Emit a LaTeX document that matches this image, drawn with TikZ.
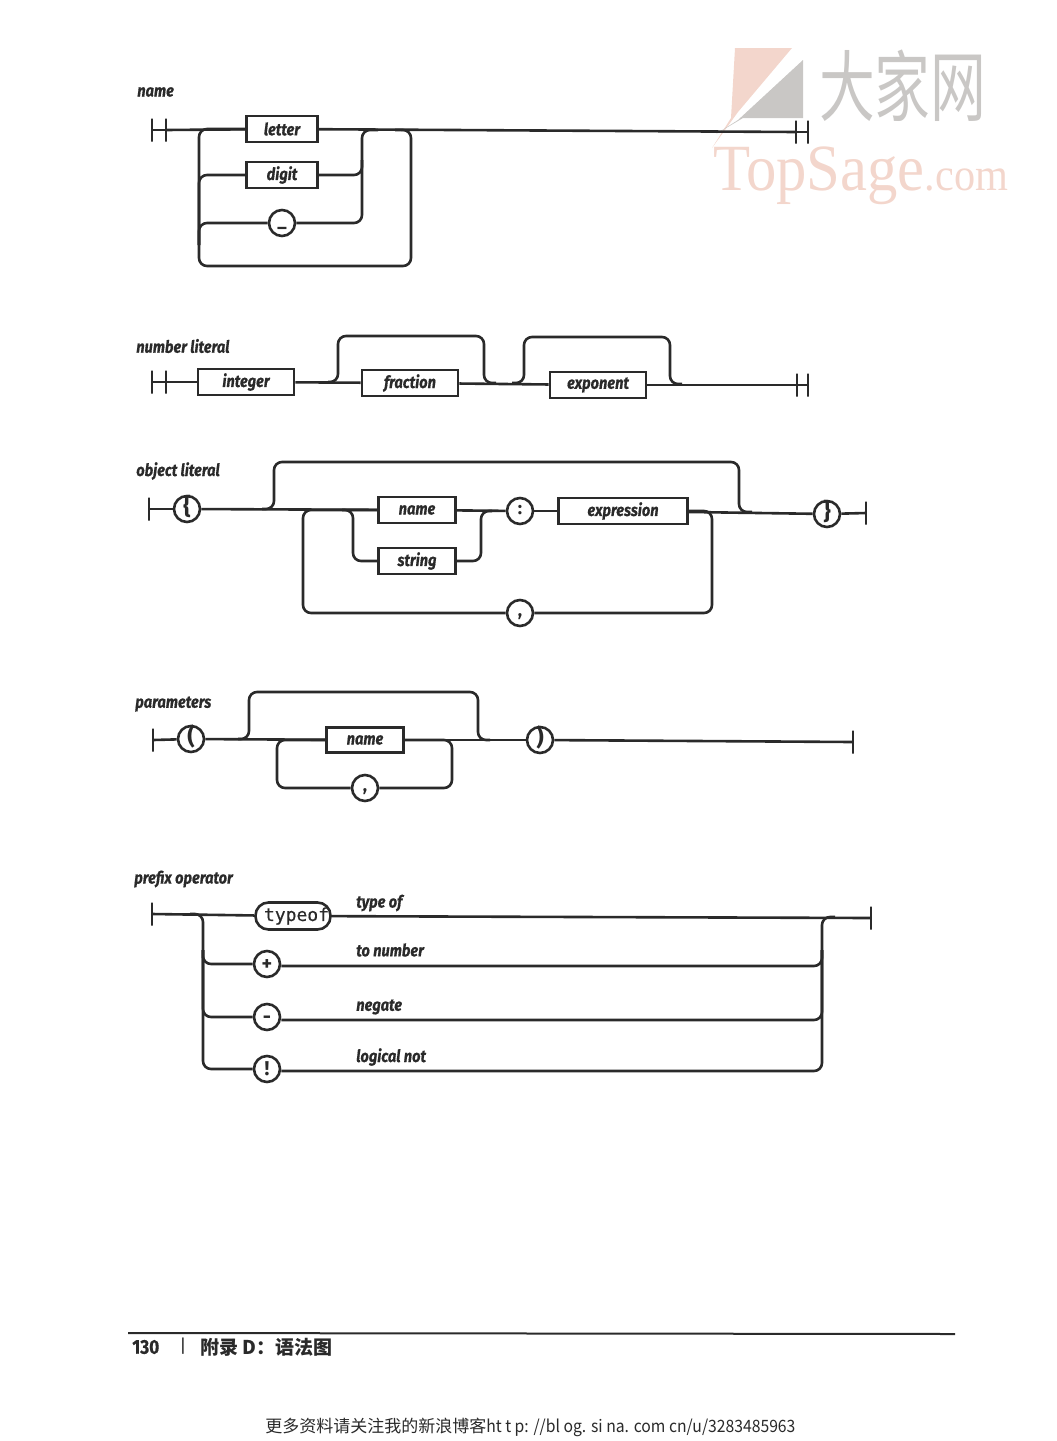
\documentclass[tikz,border=0pt]{standalone}
\usepackage{fontspec}
\usepackage{tikz}
\usetikzlibrary{positioning}
\setmainfont{Fira Sans}
\setmonofont[FakeBold=.5]{DejaVu Sans Mono}
\newfontfamily\condfont[FakeStretch=.86, FakeBold=.5]{Fira Sans}
\newfontfamily\cjkfont{Noto Sans CJK SC}
\newfontfamily\cjklatin[FakeStretch=.925]{Noto Sans CJK SC}
\newfontfamily\liberserif{Liberation Serif}
\definecolor{ink}{HTML}{2A2A2A}
\definecolor{wmpink}{HTML}{F3D6CC}
\definecolor{wmgrey}{HTML}{C9C7C5}

\begin{document}
\begin{tikzpicture}[x=1pt, y=-1pt, node distance=40pt, on grid,
    line width=2.6pt, text=ink,
    conn/.style={draw=ink, rounded corners=8pt},
    term/.style={draw=ink, rectangle, minimum width=71pt, minimum height=26pt, inner sep=0pt, font=\fontsize{17}{17}\condfont\bfseries\itshape},
    lit/.style={draw=ink, circle, minimum size=26pt, inner sep=0pt, text height=9pt, text depth=2pt, font=\fontsize{18}{18}\selectfont\bfseries},
    litc/.style={lit, text height=12pt, text depth=0pt, font=\fontsize{20}{20}\selectfont\bfseries},
    litb/.style={lit, text height=15pt, text depth=5pt, font=\fontsize{23}{23}\selectfont\bfseries},
    pill/.style={draw=ink, rounded corners=13pt, minimum width=75pt, minimum height=27pt, inner sep=0pt, font=\fontsize{18}{18}\selectfont\ttfamily},
    bar/.style={draw=ink, rectangle, minimum width=0pt, minimum height=23pt, inner sep=0pt, outer sep=0pt},
    rulename/.style={anchor=west, inner sep=0pt, font=\fontsize{17}{17}\condfont\bfseries\itshape},
    gloss/.style={anchor=west, inner sep=0pt, font=\fontsize{17}{17}\condfont\bfseries\itshape}]
   \useasboundingbox (0,0) rectangle (1057,1441);

   % watermark
   \fill[wmpink] (735,48) -- (792,48) -- (738,112) -- (712,148) -- (731,118) -- cycle;
   \fill[wmgrey] (803,60) -- (803,118) -- (743,118) -- (716,134) -- (738,120) -- cycle;
   \node[anchor=west, inner sep=0pt, text=wmgrey, xscale=.9, yscale=1.25, font=\fontsize{62}{62}\cjkfont] (wm_cn) at (818,86) {大家网};
   \node[anchor=base west, inner sep=0pt, text=wmpink, xscale=.92] (wm_en) at (712,190) {\liberserif\fontsize{66}{66}\selectfont TopSage\fontsize{46}{46}\selectfont.com};

   % name
   \node[rulename] (name_title) at (136,92) {name};
   \node[bar] (name_b0) at (152,130) {};
   \node[bar] (name_b1) [right=14pt of name_b0] {};
   \node[term] (letter) at (282,129) {letter};
   \node[term] (digit) [below=46pt of letter] {digit};
   \node[lit] (under) [below=48pt of digit] {\_};
   \node[bar] (name_e0) at (796,132) {};
   \node[bar] (name_e1) [right=12pt of name_e0] {};
   \coordinate (name_l) at (199,245);
   \coordinate (name_c) at (362,160);
   \coordinate (name_j) at (378,130);
   \coordinate (name_k) at (395,130);
   \coordinate (name_bt) at (300,266);
   \coordinate (name_r) at (411,200);
   \path[conn]
    (name_b0) edge (name_b1)
    (name_b1) edge (letter)
    (letter) edge (name_e0)
    (name_e0) edge (name_e1)
    ;
   \draw[conn] (digit) -| (name_l);
   \draw[conn] (under) -| (name_l);
   \draw[conn] (letter) -| (name_l) |- (name_bt) -| (name_r) |- (name_k);
   \draw[conn] (name_j) -| (name_c);
   \draw[conn] (digit) -| (name_c);
   \draw[conn] (under) -| (name_c);

   % number literal
   \node[rulename] (num_title) at (135,346) {number literal};
   \node[bar] (num_b0) at (152,382) {};
   \node[bar] (num_b1) [right=14pt of num_b0] {};
   \node[term, minimum width=96pt] (integer) at (246,382) {integer};
   \node[term, minimum width=96pt] (fraction) at (410,383) {fraction};
   \node[term, minimum width=96pt] (exponent) at (598,385) {exponent};
   \node[bar] (num_e0) at (797,385) {};
   \node[bar] (num_e1) [right=11pt of num_e0] {};
   \coordinate (num_a0) at (328,382);
   \coordinate (num_a1) at (338,336);
   \coordinate (num_a2) at (484,336);
   \coordinate (num_a3) at (496,383);
   \coordinate (num_c0) at (512,383);
   \coordinate (num_c1) at (524,337);
   \coordinate (num_c2) at (670,337);
   \coordinate (num_c3) at (682,384);
   \path[conn]
    (num_b0) edge (num_b1)
    (num_b1) edge (integer)
    (integer) edge (fraction)
    (fraction) edge (exponent)
    (exponent) edge (num_e0)
    (num_e0) edge (num_e1)
    ;
   \draw[conn] (num_a0) -| (num_a1) -- (num_a2) |- (num_a3);
   \draw[conn] (num_c0) -| (num_c1) -- (num_c2) |- (num_c3);

   % object literal
   \node[rulename] (obj_title) at (135,471) {object literal};
   \node[bar] (obj_b0) at (149,509) {};
   \node[litb] (lbrace) at (187,509) {\{};
   \node[term, minimum width=77pt] (obj_name) at (417,510) {name};
   \node[term, minimum width=77pt] (obj_string) [below=51pt of obj_name] {string};
   \node[lit] (colon) at (520,511) {:};
   \node[term, minimum width=129pt] (expression) at (623,511) {expression};
   \node[litb] (rbrace) at (827,514) {\}};
   \node[bar] (obj_e0) at (866,513) {};
   \node[lit] (obj_comma) at (520,613) {,};
   \coordinate (obj_a0) at (262,509);
   \coordinate (obj_a1) at (274,462);
   \coordinate (obj_a2) at (739,462);
   \coordinate (obj_a3) at (752,512);
   \coordinate (obj_l) at (303,580);
   \coordinate (obj_s0) at (342,510);
   \coordinate (obj_s1) at (353,540);
   \coordinate (obj_t0) at (492,511);
   \coordinate (obj_t1) at (481,540);
   \coordinate (obj_r) at (712,560);
   \path[conn]
    (obj_b0) edge (lbrace)
    (lbrace) edge (obj_name)
    (obj_name) edge (colon)
    (colon) edge (expression)
    (expression) edge (rbrace)
    (rbrace) edge (obj_e0)
    ;
   \draw[conn] (obj_a0) -| (obj_a1) -- (obj_a2) |- (obj_a3);
   \draw[conn] (obj_name) -| (obj_l) |- (obj_comma);
   \draw[conn] (obj_comma) -| (obj_r) |- (expression);
   \draw[conn] (obj_s0) -| (obj_s1) |- (obj_string);
   \draw[conn] (obj_t0) -| (obj_t1) |- (obj_string);

   % parameters
   \node[rulename] (par_title) at (134,704) {parameters};
   \node[bar] (par_b0) at (153,740) {};
   \node[litb] (lparen) at (191,739) {(};
   \node[term, minimum width=77pt, minimum height=25pt] (par_name) at (365,740) {name};
   \node[lit] (par_comma) [below=48pt of par_name] {,};
   \node[litb] (rparen) at (540,740) {)};
   \node[bar] (par_e0) at (853,742) {};
   \coordinate (par_a0) at (238,739);
   \coordinate (par_a1) at (249,692);
   \coordinate (par_a2) at (478,692);
   \coordinate (par_a3) at (490,740);
   \coordinate (par_l) at (277,765);
   \coordinate (par_r) at (452,765);
   \path[conn]
    (par_b0) edge (lparen)
    (lparen) edge (par_name)
    (par_name) edge (rparen)
    (rparen) edge (par_e0)
    ;
   \draw[conn] (par_a0) -| (par_a1) -- (par_a2) |- (par_a3);
   \draw[conn] (par_name) -| (par_l) |- (par_comma);
   \draw[conn] (par_comma) -| (par_r) |- (par_name);

   % prefix operator
   \node[rulename] (pre_title) at (133,879) {prefix operator};
   \node[bar] (pre_b0) at (152,914) {};
   \node[pill] (typeof) at (293,916) {\hspace*{7pt}typeof};
   \node[litc] (plus) at (267,964) {+};
   \node[litc] (minus) [below=53pt of plus] {-};
   \node[litc] (bang) [below=52pt of minus] {!};
   \node[bar] (pre_e0) at (871,918) {};
   \node[gloss] (pre_g0) at (355,903) {type of};
   \node[gloss] (pre_g1) at (355,950) {to number};
   \node[gloss] (pre_g2) at (355,1007) {negate};
   \node[gloss] (pre_g3) at (355,1057) {logical not};
   \coordinate (pre_l0) at (190,914);
   \coordinate (pre_l) at (203,950);
   \coordinate (pre_r0) at (835,917);
   \coordinate (pre_r) at (822,950);
   \path[conn]
    (pre_b0) edge (typeof)
    (typeof) edge (pre_e0)
    ;
   \draw[conn] (pre_l0) -| (pre_l) |- (plus);
   \draw[conn] (pre_l) |- (minus);
   \draw[conn] (pre_l) |- (bang);
   \draw[conn] (pre_r0) -| (pre_r) |- ([yshift=-2pt]plus.east);
   \draw[conn] (pre_r) |- ([yshift=-3pt]minus.east);
   \draw[conn] (pre_r) |- ([yshift=-2pt]bang.east);

   % footer
   \coordinate (foot_l) at (128,1333);
   \coordinate (foot_r) at (955,1334);
   \draw[conn, line width=2pt] (foot_l) -- (foot_r);
   \node[anchor=west, inner sep=0pt, font=\fontsize{20}{20}\condfont\bfseries] (foot_num) at (131,1347) {130};
   \node[anchor=west, inner sep=0pt, font=\fontsize{18}{18}\selectfont] (foot_sep) at (178,1346) {|};
   \node[anchor=west, inner sep=0pt, font=\fontsize{19}{19}\cjkfont\bfseries] (foot_txt) at (199,1347) {附录 D：语法图};
   \node[anchor=west, inner sep=0pt, font=\fontsize{17}{17}\cjkfont] (foot_url) at (264,1427) {更多资料请关注我的新浪博客{\cjklatin ht t p: //bl og. si na. com cn/u/3283485963}};
\end{tikzpicture}
\end{document}
